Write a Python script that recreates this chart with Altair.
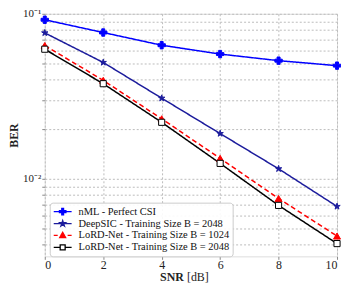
import altair as alt
import pandas as pd

snr = [0, 2, 4, 6, 8, 10]
series_names = [
    "nML - Perfect CSI",
    "DeepSIC - Training Size B = 2048",
    "LoRD-Net - Training Size B = 1024",
    "LoRD-Net - Training Size B = 2048",
]
ber_nml = [0.092, 0.077, 0.0645, 0.057, 0.052, 0.0485]
ber_deepsic = [0.0766, 0.0507, 0.0308, 0.0188, 0.0115, 0.0068]
ber_lord_1024 = [0.0642, 0.0395, 0.0231, 0.0133, 0.0076, 0.0045]
ber_lord_2048 = [0.061, 0.0377, 0.022, 0.0124, 0.0069, 0.00405]

line_colors = ["#0000ff", "#1c1c9c", "#ff0000", "#000000"]
fill_colors = ["#0000ff", "#1c1c9c", "#ff0000", "#ffffff"]
dashes = [[1, 0], [1, 0], [5, 3], [1, 0]]
star = ("M0,-1L0.2245,-0.309L0.951,-0.309L0.363,0.118L0.588,0.809L0,0.382"
        "L-0.588,0.809L-0.363,0.118L-0.951,-0.309L-0.2245,-0.309Z")
shapes = ["cross", star, "triangle-up", "square"]
sizes = [55, 45, 50, 38]

# legend glyphs: short line segment + marker (unit coordinates)
leg_line = "M-1.8,0H1.8"
leg_shapes = [
    leg_line + "M-0.65,-0.18H-0.18V-0.65H0.18V-0.18H0.65V0.18H0.18V0.65H-0.18V0.18H-0.65Z",
    leg_line + ("M0,-0.6L0.1347,-0.1854L0.5706,-0.1854L0.2178,0.0708L0.3528,0.4854L0,0.2292"
                "L-0.3528,0.4854L-0.2178,0.0708L-0.5706,-0.1854L-0.1347,-0.1854Z"),
    "M-1.8,0H-1M-0.5,0H0.5M1,0H1.8M0,-0.65L0.6,0.45L-0.6,0.45Z",
    "M-1.8,0H-0.5M0.5,0H1.8M-0.5,-0.5H0.5V0.5H-0.5Z",
]

rows = []
for name, vals in zip(series_names, [ber_nml, ber_deepsic, ber_lord_1024, ber_lord_2048]):
    for s, v in zip(snr, vals):
        rows.append({"snr": s, "ber": v, "series": name})
df = pd.DataFrame(rows)

FONT = "Liberation Serif"
y_ticks = [0.004, 0.005, 0.006, 0.007, 0.008, 0.009,
           0.01, 0.02, 0.03, 0.04, 0.05, 0.06, 0.07, 0.08, 0.09, 0.1]

x_enc = alt.X("snr:Q", scale=alt.Scale(domain=[0, 10], nice=False),
              axis=alt.Axis(values=[0, 2, 4, 6, 8, 10], title=None, grid=True,
                            gridDash=[2, 2], gridColor="#bbbbbb", labelFont=FONT,
                            labelFontSize=12, labelColor="#222", tickSize=3,
                            domain=False, labelPadding=0))
y_enc = alt.Y("ber:Q", scale=alt.Scale(type="log", domain=[0.00339, 0.1], nice=False),
              axis=alt.Axis(values=y_ticks, title="BER", titleFont=FONT, titleFontSize=12,
                            titleFontWeight="bold", titleColor="#222", titlePadding=2,
                            labelExpr="datum.value == 0.1 ? '10⁻¹' : (datum.value == 0.01 ? '10⁻²' : '')",
                            labelFont=FONT, labelFontSize=11, labelColor="#222",
                            grid=True, gridDash=[2, 2], gridColor="#bbbbbb",
                            tickSize=3, domain=False, labelPadding=1))

legend = alt.Legend(title=None, orient="none", legendX=5, legendY=190,
                    symbolSize=100, symbolStrokeWidth=1.3, symbolOffset=4,
                    labelOffset=10, labelFont=FONT, labelFontSize=10.5, labelColor="#111",
                    labelLimit=300, fillColor="rgba(255,255,255,0.9)",
                    strokeColor="#cccccc", cornerRadius=3, padding=3, rowPadding=0)

line_layers = []
point_layers = []
for name, shp, fc, sc, sz, dash in zip(series_names, shapes, fill_colors, line_colors,
                                       sizes, dashes):
    base = alt.Chart(df).transform_filter(alt.datum.series == name)
    line_layers.append(
        base.mark_line(stroke=sc, strokeWidth=1.5, strokeDash=dash).encode(x=x_enc, y=y_enc)
    )
    point_layers.append(
        base.mark_point(shape=shp, fill=fc, stroke=sc, size=sz, opacity=1,
                        strokeWidth=1, filled=False).encode(x=x_enc, y=y_enc)
    )

# invisible carrier of the legend (zero-size marks)
legend_layer = alt.Chart(df).mark_point(
    opacity=1, size=0, strokeWidth=1.3, filled=False
).encode(
    x=x_enc, y=y_enc,
    shape=alt.Shape("series:N", scale=alt.Scale(domain=series_names, range=leg_shapes),
                    legend=legend),
    fill=alt.Fill("series:N", scale=alt.Scale(domain=series_names, range=fill_colors),
                  legend=legend),
    stroke=alt.Stroke("series:N", scale=alt.Scale(domain=series_names, range=line_colors),
                      legend=legend),
)

t1 = alt.Chart(pd.DataFrame({"t": ["SNR"]})).mark_text(
    font=FONT, fontSize=12, fontWeight="bold", align="right", baseline="middle", color="#222"
).encode(x=alt.value(140), y=alt.value(265), text="t:N")
t2 = alt.Chart(pd.DataFrame({"t": ["[dB]"]})).mark_text(
    font=FONT, fontSize=12, align="left", baseline="middle", color="#222"
).encode(x=alt.value(143), y=alt.value(265), text="t:N")

chart = alt.layer(*line_layers, *point_layers, legend_layer, t1, t2).properties(
    width=294, height=244,
    autosize=alt.AutoSizeParams(type="none"),
    padding={"left": 37, "top": 5, "right": 4, "bottom": 26},
).configure_view(stroke="#333333", strokeWidth=1).configure(background="white")

chart.save("out.html", embed_options={"renderer": "svg", "actions": False})
